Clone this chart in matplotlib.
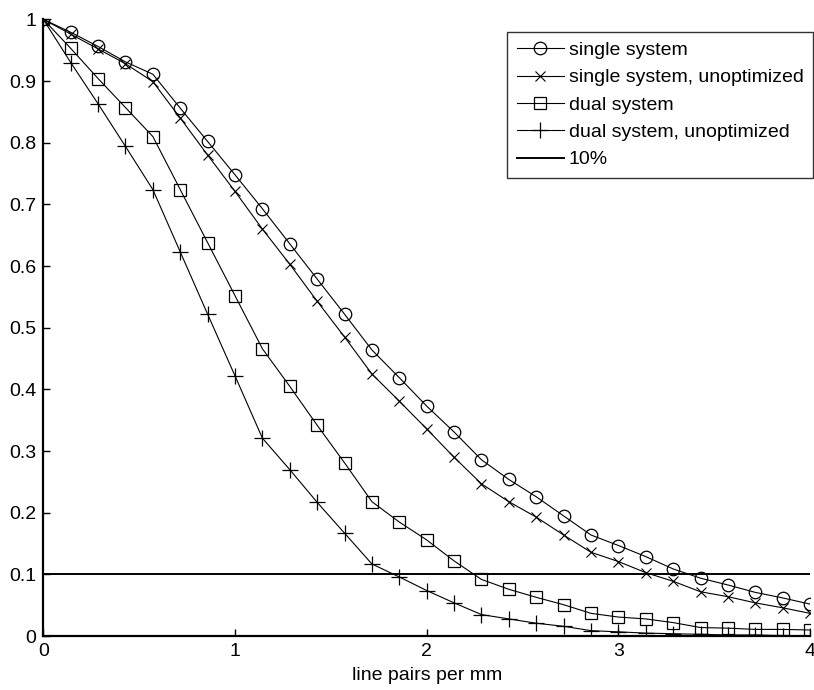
import numpy as np
import matplotlib
matplotlib.use('Agg')
from matplotlib import pyplot as plt

plt.rcParams['font.family'] = ['Liberation Sans', 'DejaVu Sans']

# spatial frequency, 29 samples from 0 to 4 lp/mm
lp_per_mm = np.linspace(0, 4, 29)

single_system = [1.0, 0.979, 0.956, 0.931, 0.911, 0.856, 0.802, 0.748, 0.693, 0.636,
                 0.579, 0.522, 0.464, 0.419, 0.373, 0.331, 0.286, 0.254, 0.226, 0.195,
                 0.164, 0.147, 0.129, 0.109, 0.094, 0.083, 0.071, 0.062, 0.052]
single_unopt = [1.0, 0.976, 0.952, 0.928, 0.899, 0.840, 0.780, 0.721, 0.660, 0.603,
                0.543, 0.485, 0.425, 0.381, 0.336, 0.290, 0.247, 0.218, 0.193, 0.164,
                0.136, 0.121, 0.103, 0.089, 0.072, 0.064, 0.054, 0.046, 0.037]
dual_system = [1.0, 0.953, 0.904, 0.857, 0.810, 0.724, 0.638, 0.552, 0.466, 0.405,
               0.342, 0.281, 0.218, 0.185, 0.156, 0.122, 0.092, 0.076, 0.063, 0.051,
               0.037, 0.031, 0.028, 0.022, 0.014, 0.013, 0.011, 0.011, 0.010]
dual_unopt = [1.0, 0.930, 0.863, 0.794, 0.724, 0.623, 0.522, 0.422, 0.321, 0.270,
              0.217, 0.167, 0.117, 0.096, 0.074, 0.054, 0.035, 0.028, 0.021, 0.016,
              0.009, 0.007, 0.005, 0.004, 0.003, 0.002, 0.002, 0.001, 0.001]
threshold = 0.1

fig = plt.figure(figsize=(8.14, 6.9), dpi=100)
ax = fig.add_axes([0.0532, 0.078, 0.942, 0.894])

ax.plot(lp_per_mm, single_system, color='black', lw=0.8, marker='o', ms=9,
        mfc='none', mew=0.9, label='single system')
ax.plot(lp_per_mm, single_unopt, color='black', lw=0.8, marker='x', ms=6.5,
        mew=0.8, label='single system, unoptimized')
ax.plot(lp_per_mm, dual_system, color='black', lw=0.8, marker='s', ms=8,
        mfc='none', mew=0.9, label='dual system')
ax.plot(lp_per_mm, dual_unopt, color='black', lw=0.8, marker='+', ms=11,
        mew=0.9, label='dual system, unoptimized')
# 10% 阈值线
ax.axhline(threshold, color='black', lw=1.4, label='10%')

ax.set_xlim(0, 4)
ax.set_ylim(0, 1)
ax.set_xticks([0, 1, 2, 3, 4])
ax.set_xticklabels(['0', '1', '2', '3', '4'])
yt = np.round(np.arange(0, 1.01, 0.1), 1)
ax.set_yticks(yt)
ax.set_yticklabels(['0'] + ['%.1f' % v for v in yt[1:-1]] + ['1'])
ax.tick_params(direction='in', length=5, width=1, labelsize=14, pad=5)
ax.spines['top'].set_visible(False)
ax.spines['right'].set_visible(False)
ax.spines['left'].set_linewidth(1.6)
ax.spines['bottom'].set_linewidth(1.6)
ax.set_xlabel('line pairs per mm', fontsize=14, labelpad=5)

leg = ax.legend(loc='upper right', bbox_to_anchor=(1.004, 0.98), fontsize=14,
                frameon=True, fancybox=False, edgecolor='black', handlelength=2.4,
                handletextpad=0.25, borderpad=0.5, labelspacing=0.5,
                borderaxespad=0)
leg.get_frame().set_linewidth(1.0)

fig.savefig('out.png', dpi=100)
